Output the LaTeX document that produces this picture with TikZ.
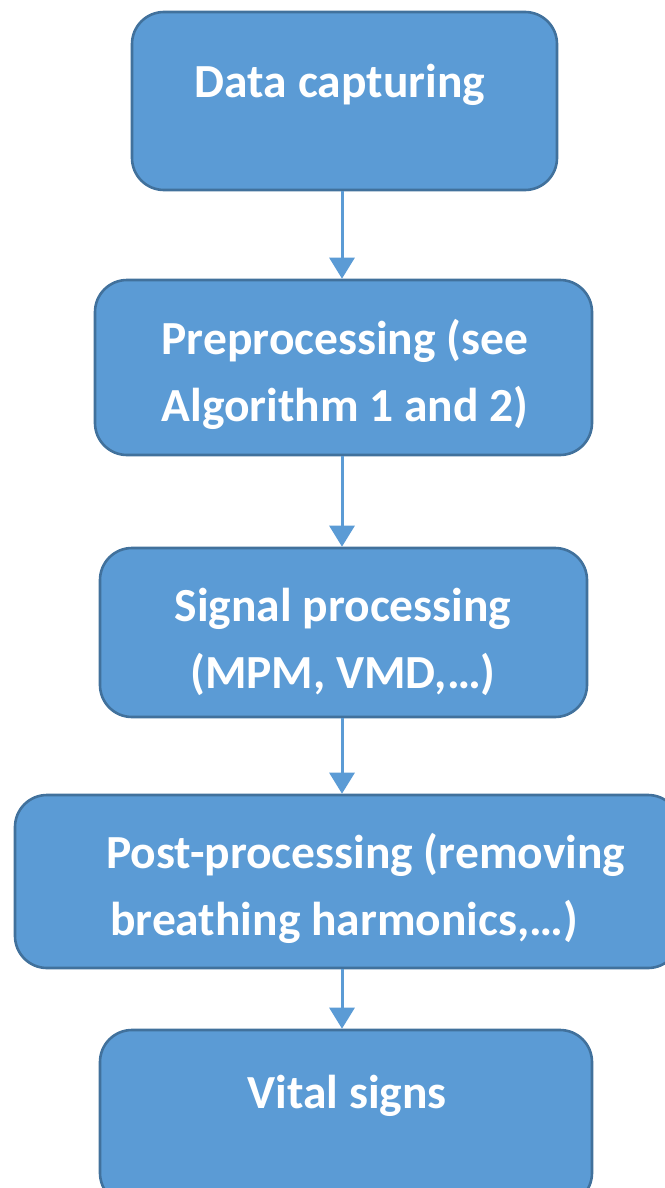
\documentclass[tikz,border=0pt]{standalone}
\usepackage{fontspec}
\setmainfont{Carlito}
\usetikzlibrary{arrows.meta,positioning}
\definecolor{BoxFill}{HTML}{5B9BD5}
\definecolor{BoxEdge}{HTML}{41719C}
\begin{document}
\begin{tikzpicture}[x=1pt,y=-1pt,
      stage/.style={rectangle,rounded corners=32pt,draw=BoxEdge,fill=BoxFill,
                    line width=2.6pt,inner sep=0pt},
      caption/.style={inner sep=0pt,text=white,
                      font=\fontsize{47.5}{67}\selectfont\bfseries},
      flow/.style={-{Triangle[length=21pt,width=25pt]},line width=3pt,draw=BoxFill}]
    \useasboundingbox (0,0) rectangle (664,1188);
    \coordinate (spine) at (342,0);
    % boxes
    \node[stage,minimum width=425pt,minimum height=178pt] (capture) at (344.5,101) {};
    \node[stage,minimum width=497pt,minimum height=175pt] (prep) at (343.5,367.5) {};
    \node[stage,minimum width=487pt,minimum height=169pt] (signal) at (343.5,632.5) {};
    \node[stage,minimum width=665pt,minimum height=173pt] (post) at (347.5,881.5) {};
    \node[stage,minimum width=492pt,minimum height=175pt] (vital) at (346,1117.5) {};
    % texts
    \node[caption,anchor=base] (captureText) at (340,98) {Data capturing};
    \node[caption,align=center] (prepText) at (345,374)
      {Preprocessing (see\\Algorithm 1 and 2)};
    \node[caption,align=center] (signalText) at (343,642)
      {Signal processing\\(MPM, VMD,\dots)};
    \node[caption,align=left,anchor=west] (postText) at (106,888)
      {Post-processing (removing\\\hspace*{4pt}breathing harmonics,\dots)};
    \node[caption,anchor=base] (vitalText) at (347,1108) {Vital signs};
    % arrows
    \draw[flow] (capture.south -| spine) -- (prep.north -| spine);
    \draw[flow] (prep.south -| spine) -- (signal.north -| spine);
    \draw[flow] (signal.south -| spine) -- (post.north -| spine);
    \draw[flow] (post.south -| spine) -- (vital.north -| spine);
  \end{tikzpicture}
\end{document}
